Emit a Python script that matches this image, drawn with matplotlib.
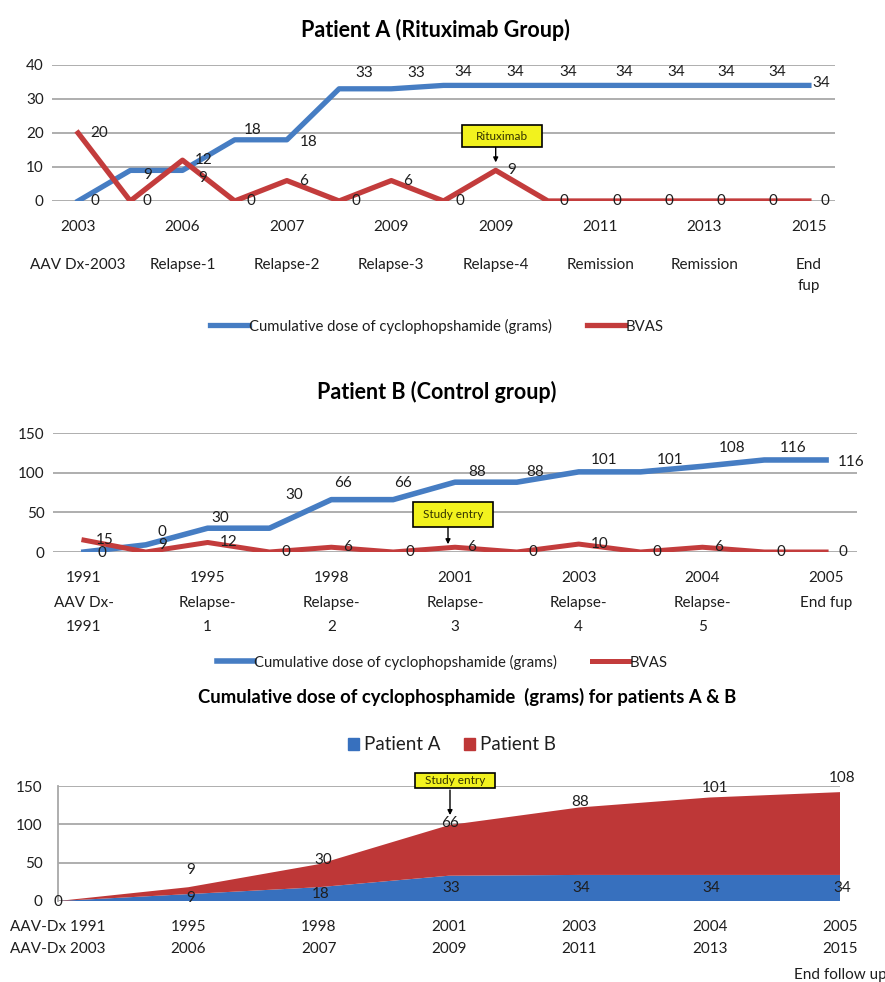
import matplotlib
matplotlib.use('Agg')
import matplotlib.pyplot as plt
from matplotlib.patches import Rectangle, Patch
from matplotlib.transforms import ScaledTranslation
import numpy as np

plt.rcParams['font.family'] = ['Lato', 'DejaVu Sans']

# ---------------- data ----------------
a_years = ['2003', '2006', '2007', '2009', '2009', '2011', '2013', '2015']
a_events = ['AAV Dx-2003', 'Relapse-1', 'Relapse-2', 'Relapse-3', 'Relapse-4',
            'Remission', 'Remission', 'End\nfup']
a_cyclo = [0, 9, 9, 18, 18, 33, 33, 34, 34, 34, 34, 34, 34, 34, 34]
a_bvas = [20, 0, 12, 0, 6, 0, 6, 0, 9, 0, 0, 0, 0, 0, 0]

b_years = ['1991', '1995', '1998', '2001', '2003', '2004', '2005']
b_events = ['AAV Dx-\n1991', 'Relapse-\n1', 'Relapse-\n2', 'Relapse-\n3',
            'Relapse-\n4', 'Relapse-\n5', 'End fup']
b_cyclo = [0, 9, 30, 30, 66, 66, 88, 88, 101, 101, 108, 116, 116]
b_bvas = [15, 0, 12, 0, 6, 0, 6, 0, 10, 0, 6, 0, 0]

c_row1 = ['AAV-Dx 1991', '1995', '1998', '2001', '2003', '2004', '2005']
c_row2 = ['AAV-Dx 2003', '2006', '2007', '2009', '2011', '2013', '2015']
c_pat_a = [0, 9, 18, 33, 34, 34, 34]
c_pat_b = [0, 9, 30, 66, 88, 101, 108]

# label offsets (pixels) - layout only
a_blue_off = [(17, 0), (17, -5), (20, -8), (18, 10), (22, -2), (25, 16), (25, 16),
              (20, 13), (20, 13), (20, 13), (24, 13), (24, 13), (22, 13), (21, 13), (12, 2)]
b_blue_off = [(18, -1), (17, 0), (13, 10), (25, 33), (12, 17), (10, 17), (22, 10),
              (18, 10), (25, 12), (30, 12), (30, 18), (29, 12), (25, -2)]
c_b_off = [(0, -1), (2, 17), (5, 4), (1, 2), (1, 5), (5, 9), (2, 14)]

W, H = 885, 982
BLUE = '#467DC3'
RED = '#C33C3C'
BLUE_AREA = '#3770BE'
RED_AREA = '#BE3737'
GRID = '#a8a8a8'
TXT = '#1e1e1e'
YELLOW = '#F2F21E'

fig = plt.figure(figsize=(W / 100, H / 100), dpi=100)


def rect(l, t, r, b):
    return [l / W, 1 - b / H, (r - l) / W, (b - t) / H]


def style_axes(ax, yticks):
    for s in ax.spines.values():
        s.set_visible(False)
    ax.set_yticks(yticks)
    ax.set_xticks([])
    ax.yaxis.grid(True, color=GRID, lw=1.3)
    ax.set_axisbelow(True)
    ax.tick_params(axis='y', length=0, pad=6, labelsize=11, labelcolor=TXT)


def xrow(ax, x, text, dy, **kw):
    ax.annotate(text, (x, 0), xycoords=('data', 'axes fraction'),
                xytext=(0, -dy), textcoords='offset pixels',
                ha='center', va='center', fontsize=11, color=TXT,
                annotation_clip=False, **kw)


def callout(ax, x, y, text, box, arrow_x, arrow_y0, arrow_y1):
    T = ScaledTranslation(x, y, ax.transData)
    x0, y0, x1, y1 = box
    ax.add_patch(Rectangle((x0, y0), x1 - x0, y1 - y0, transform=T,
                           fc=YELLOW, ec='black', lw=1.2, clip_on=False, zorder=6))
    ax.annotate(text, ((x0 + x1) / 2, (y0 + y1) / 2), xycoords=T,
                ha='center', va='center', fontsize=8.5, color='#333300',
                zorder=7, annotation_clip=False)
    ax.annotate('', xy=(arrow_x, arrow_y1), xycoords=T,
                xytext=(arrow_x, arrow_y0), textcoords=T,
                arrowprops=dict(arrowstyle='-|>', color='black', lw=1,
                                shrinkA=0, shrinkB=0, mutation_scale=7),
                zorder=7, annotation_clip=False)


# ---------------- Panel A ----------------
fig.text(435 / W, 1 - 30 / H, 'Patient A (Rituximab Group)', ha='center', va='center',
         fontsize=15.5, fontweight='bold', color='black')
axA = fig.add_axes(rect(52, 65, 835, 201))
xa = np.arange(len(a_cyclo))
lA1, = axA.plot(xa, a_cyclo, color=BLUE, lw=3.8, zorder=3,
                label='Cumulative dose of cyclophopshamide (grams)')
lA2, = axA.plot(xa, a_bvas, color=RED, lw=3.8, zorder=3, label='BVAS')
axA.set_xlim(-0.5, len(xa) - 0.5)
axA.set_ylim(0, 40)
style_axes(axA, range(0, 41, 10))
for i, v in enumerate(a_cyclo):
    dx, dy = a_blue_off[i]
    axA.annotate(str(v), (i, v), xytext=(dx, dy), textcoords='offset pixels',
                 ha='center', va='center', fontsize=11, color=TXT, zorder=5,
                 annotation_clip=False)
for i, v in enumerate(a_bvas):
    axA.annotate(str(v), (i, v), xytext=(12, 0), textcoords='offset pixels',
                 ha='left', va='center', fontsize=11, color=TXT, zorder=5,
                 annotation_clip=False)
for k, (yr, ev) in enumerate(zip(a_years, a_events)):
    xrow(axA, 2 * k, yr, 26)
    for j, line in enumerate(ev.split('\n')):
        xrow(axA, 2 * k, line, 64 + 21 * j)
callout(axA, 8, a_bvas[8], 'Rituximab', (-34, 23, 46, 45), 0, 23, 8)
fig.legend(handles=[lA1, lA2], loc='center', bbox_to_anchor=(437 / W, 1 - 326 / H),
           ncol=2, frameon=False, fontsize=10.7, handlelength=2.6,
           handletextpad=0.05, columnspacing=2.3, labelcolor=TXT)

# ---------------- Panel B ----------------
fig.text(437 / W, 1 - 392 / H, 'Patient B (Control group)', ha='center', va='center',
         fontsize=15.5, fontweight='bold', color='black')
axB = fig.add_axes(rect(53, 433, 857, 552))
xb = np.arange(len(b_cyclo))
lB1, = axB.plot(xb, b_cyclo, color=BLUE, lw=4, zorder=3,
                label='Cumulative dose of cyclophopshamide (grams)')
lB2, = axB.plot(xb, b_bvas, color=RED, lw=3.6, zorder=3, label='BVAS')
axB.set_xlim(-0.5, len(xb) - 0.5)
axB.set_ylim(0, 150)
style_axes(axB, range(0, 151, 50))
for i, v in enumerate(b_cyclo):
    dx, dy = b_blue_off[i]
    axB.annotate(str(v), (i, v), xytext=(dx, dy), textcoords='offset pixels',
                 ha='center', va='center', fontsize=11, color=TXT, zorder=5,
                 annotation_clip=False)
for i, v in enumerate(b_bvas):
    off = (12, 20) if i == 1 else (12, 0)
    axB.annotate(str(v), (i, v), xytext=off, textcoords='offset pixels',
                 ha='left', va='center', fontsize=11, color=TXT, zorder=5,
                 annotation_clip=False)
for k, (yr, ev) in enumerate(zip(b_years, b_events)):
    xrow(axB, 2 * k, yr, 26)
    for j, line in enumerate(ev.split('\n')):
        xrow(axB, 2 * k, line, 51 + 24 * j)
callout(axB, 6, b_bvas[6], 'Study entry', (-42, 20, 38, 45), -7, 20, 3)
fig.legend(handles=[lB1, lB2], loc='center', bbox_to_anchor=(442 / W, 1 - 662 / H),
           ncol=2, frameon=False, fontsize=10.7, handlelength=2.5,
           handletextpad=0.05, columnspacing=2.3, labelcolor=TXT)

# ---------------- Panel C ----------------
fig.text(467 / W, 1 - 697 / H,
         'Cumulative dose of cyclophosphamide  (grams) for patients A & B',
         ha='center', va='center', fontsize=13.3, fontweight='bold', color='black')
axC = fig.add_axes(rect(58, 786, 840, 901))
xc = np.arange(len(c_pat_a))
axC.stackplot(xc, c_pat_a, c_pat_b, colors=[BLUE_AREA, RED_AREA],
              labels=['Patient A', 'Patient B'], zorder=2)
axC.set_xlim(0, len(xc) - 1)
axC.set_ylim(0, 150)
style_axes(axC, range(0, 151, 50))
axC.spines['left'].set_visible(True)
axC.spines['left'].set_color(GRID)
axC.spines['left'].set_linewidth(1.3)
axC.tick_params(axis='y', pad=11)
tot = [a + b for a, b in zip(c_pat_a, c_pat_b)]
for i, v in enumerate(c_pat_a):
    if i == 0:
        continue  # hidden beneath the Patient B label at the origin
    axC.annotate(str(v), (i, v / 2), xytext=(2, 0), textcoords='offset pixels',
                 ha='center', va='center', fontsize=11, color=TXT, zorder=5,
                 annotation_clip=False)
for i, v in enumerate(c_pat_b):
    dx, dy = c_b_off[i]
    axC.annotate(str(v), (i, tot[i]), xytext=(dx, dy), textcoords='offset pixels',
                 ha='center', va='center', fontsize=11, color=TXT, zorder=5,
                 annotation_clip=False)
for k, (r1, r2) in enumerate(zip(c_row1, c_row2)):
    xrow(axC, k, r1, 26)
    xrow(axC, k, r2, 48)
xrow(axC, len(xc) - 1, 'End follow up', 74)
callout(axC, 3, tot[3], 'Study entry', (-34, 37, 46, 52), 1, 35, 10)
handles = [Patch(color=BLUE_AREA, label='Patient A'), Patch(color=RED_AREA, label='Patient B')]
fig.legend(handles=handles, loc='center', bbox_to_anchor=(452 / W, 1 - 745 / H),
           ncol=2, frameon=False, fontsize=13.5, handlelength=0.6, handleheight=0.6,
           handletextpad=0.3, columnspacing=1.2, labelcolor=TXT)

fig.savefig('out.png', dpi=100)
